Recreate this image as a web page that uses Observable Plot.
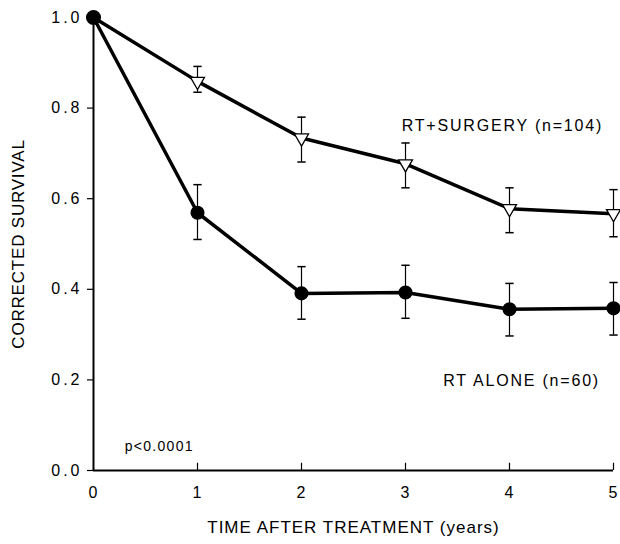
<!DOCTYPE html>
<html>
<head>
<meta charset="utf-8">
<script src="https://cdn.jsdelivr.net/npm/d3@7"></script>
<script src="https://cdn.jsdelivr.net/npm/@observablehq/plot@0.6"></script>
<style>
  html, body { margin: 0; padding: 0; background: #fff; }
  #chart svg { display: block; }
</style>
</head>
<body>
<div id="chart"></div>
<script>
// Data
const years = [0, 1, 2, 3, 4, 5];
const surgery   = [1.0, 0.859, 0.734, 0.677, 0.578, 0.567];
const surgeryHi = [null, 0.892, 0.780, 0.723, 0.624, 0.620];
const surgeryLo = [null, 0.835, 0.681, 0.624, 0.525, 0.516];
const alone     = [1.0, 0.569, 0.391, 0.393, 0.356, 0.358];
const aloneHi   = [null, 0.631, 0.450, 0.453, 0.413, 0.415];
const aloneLo   = [null, 0.510, 0.334, 0.336, 0.297, 0.299];
const xTicks = [0, 1, 2, 3, 4, 5];
const yTicks = [0, 0.2, 0.4, 0.6, 0.8, 1.0];
const labels = [
  {text: "RT+SURGERY (n=104)", x: 4.9, y: 0.76},
  {text: "RT ALONE (n=60)", x: 4.87, y: 0.198},
];
const pText = {text: "p<0.0001", x: 0.3, y: 0.053};

const surgeryData = years.map((x, i) => ({x, y: surgery[i], hi: surgeryHi[i], lo: surgeryLo[i]}));
const aloneData = years.map((x, i) => ({x, y: alone[i], hi: aloneHi[i], lo: aloneLo[i]}));
const errData = [...surgeryData, ...aloneData].filter(d => d.hi != null);
const capW = 0.04;

const font = "'Liberation Sans', Arial, sans-serif";

const chart = Plot.plot({
  width: 620,
  height: 544,
  marginLeft: 93,
  marginRight: 7,
  marginTop: 17,
  marginBottom: 74,
  style: {fontFamily: font, background: "#fff", color: "#000"},
  x: {domain: [0, 5]},
  y: {domain: [0, 1]},
  marks: [
    // axes
    Plot.axisY(yTicks, {
      tickSize: 6, tickPadding: 5, tickFormat: d3.format(".1f"),
      fontSize: 16, label: null, stroke: "#000", strokeWidth: 1.2
    }),
    Plot.axisX(xTicks, {
      tickSize: 0, tickPadding: 16, fontSize: 16, label: null
    }),
    Plot.ruleX(xTicks.filter(d => d > 0), {x: d => d, y1: 0, y2: 0.016, stroke: "#000", strokeWidth: 1.2}),
    Plot.ruleX([0], {stroke: "#000", strokeWidth: 2}),
    Plot.ruleY([0], {stroke: "#000", strokeWidth: 2}),
    // error bars
    Plot.ruleX(errData, {x: "x", y1: "lo", y2: "hi", stroke: "#000", strokeWidth: 1.2}),
    Plot.link(errData, {x1: d => d.x - capW, x2: d => d.x + capW, y1: "hi", y2: "hi", stroke: "#000", strokeWidth: 1.5}),
    Plot.link(errData, {x1: d => d.x - capW, x2: d => d.x + capW, y1: "lo", y2: "lo", stroke: "#000", strokeWidth: 1.5}),
    // lines
    Plot.line(surgeryData, {x: "x", y: "y", stroke: "#000", strokeWidth: 3.5}),
    Plot.line(aloneData, {x: "x", y: "y", stroke: "#000", strokeWidth: 3.5}),
    // markers
    Plot.dot(surgeryData.slice(1), {x: "x", y: "y", symbol: "triangle", rotate: 180, r: 5.2, fill: "#fff", stroke: "#000", strokeWidth: 1.3}),
    Plot.dot(aloneData.slice(1), {x: "x", y: "y", r: 6.3, fill: "#000", stroke: "#000"}),
    Plot.dot([aloneData[0]], {x: "x", y: "y", r: 6.8, fill: "#000", stroke: "#000"}),
    // annotations
    Plot.text(labels, {x: "x", y: "y", text: "text", textAnchor: "end", fontSize: 16, fill: "#000"}),
    Plot.text([pText], {x: "x", y: "y", text: "text", textAnchor: "start", fontSize: 14, fill: "#000"}),
    // axis titles
    Plot.text(["TIME AFTER TREATMENT (years)"], {frameAnchor: "bottom", textAnchor: "middle", dy: 62, fontSize: 17, fill: "#000"}),
    Plot.text(["CORRECTED SURVIVAL"], {frameAnchor: "left", textAnchor: "middle", dx: -75, rotate: -90, fontSize: 17, fill: "#000"})
  ]
});

// letter spacing tweaks for plotter-like font
const sel = d3.select(chart).selectAll("text");
sel.style("letter-spacing", "1px");
sel.filter(function() { return /^\d\.\d$/.test(this.textContent); }).style("letter-spacing", "3px");
sel.filter(function() { return /RT/.test(this.textContent); }).style("letter-spacing", "1.8px");
sel.filter(function() { return /^p</.test(this.textContent); }).style("letter-spacing", "1.3px");
sel.filter(function() { return /CORRECTED/.test(this.textContent); }).style("letter-spacing", "0.8px");

document.getElementById("chart").appendChild(chart);
</script>
</body>
</html>
